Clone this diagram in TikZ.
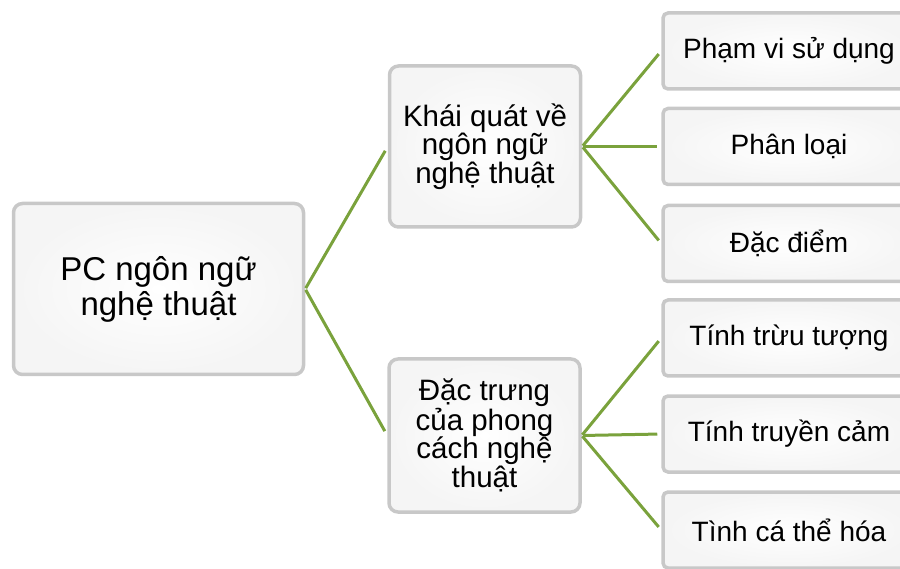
\documentclass[tikz,border=0pt]{standalone}
\usepackage{fontspec}
\setmainfont{Liberation Sans}
\definecolor{lineGreen}{RGB}{122,162,60}
\definecolor{boxEdge}{RGB}{200,200,200}
\tikzset{
  boxbase/.style={draw=boxEdge, line width=3.5pt, fill=white, rounded corners=9pt,
    inner color=white, outer color=gray!8, align=center, inner sep=0pt, text=black},
  rootbox/.style={boxbase, minimum width=290pt, minimum height=171pt, font=\fontsize{33}{35}\selectfont},
  midbox/.style={boxbase, minimum width=191pt, minimum height=155pt, font=\fontsize{29.5}{27}\selectfont},
  leafbox/.style={boxbase, rounded corners=5pt, minimum width=252pt, minimum height=76pt, font=\fontsize{28}{30}\selectfont},
  link/.style={draw=lineGreen, line width=3pt}
}
\begin{document}
\begin{tikzpicture}[x=1pt,y=-1pt]
\useasboundingbox (0,0) rectangle (900,569);
\clip (0,0) rectangle (900,569);
\node[rootbox] (root) at (158.5,289) {PC ngôn ngữ\\nghệ thuật};
\node[midbox, minimum height=161pt] (m1) at (485,146.5) {Khái quát về\\ngôn ngữ\\nghệ thuật};
\node[midbox, minimum height=153pt] (m2) at (484.5,435.5) {Đặc trưng\\của phong\\cách nghệ\\thuật};
\node[leafbox] (r1) at (789,51) {Phạm vi sử dụng};
\node[leafbox] (r2) at (789,146.5) {Phân loại};
\node[leafbox] (r3) at (789,243.5) {Đặc điểm};
\node[leafbox] (r4) at (789,338) {Tính trừu tượng};
\node[leafbox] (r5) at (789,434) {Tính truyền cảm};
\node[leafbox] (r6) at (789,530) {Tình cá thể hóa};
\draw[link, shorten <=1pt, shorten >=5pt] (root.east) -- (m1.west);
\draw[link, shorten <=1pt, shorten >=5pt] (root.east) -- (m2.west);
\foreach \r in {r1,r2,r3} \draw[link, shorten <=1pt, shorten >=4pt] (m1.east) -- (\r.west);
\foreach \r in {r4,r5,r6} \draw[link, shorten <=1pt, shorten >=4pt] (m2.east) -- (\r.west);
\end{tikzpicture}
\end{document}
